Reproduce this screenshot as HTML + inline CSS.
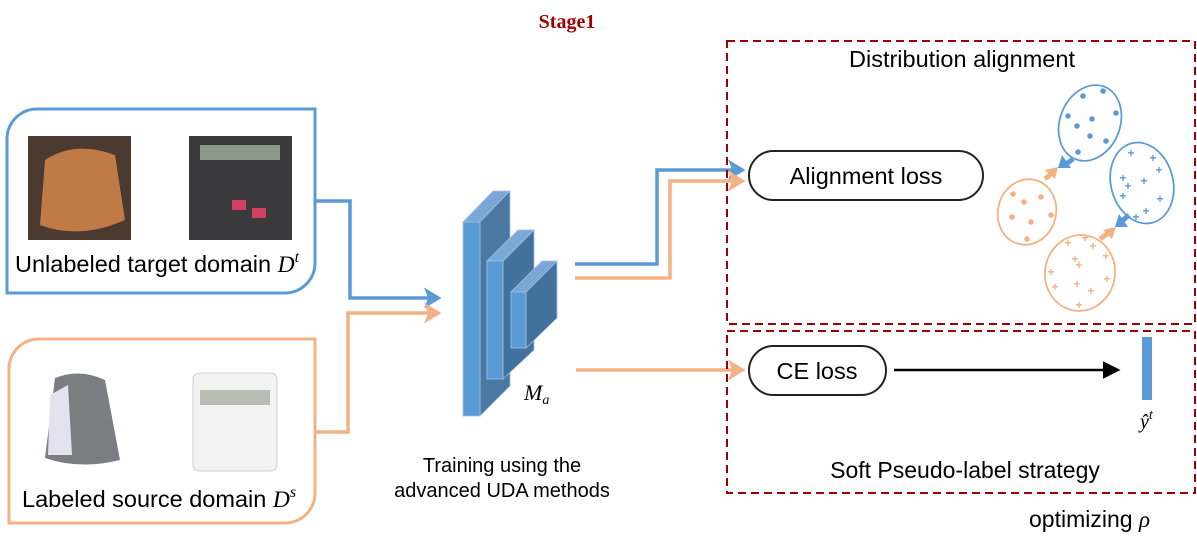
<!DOCTYPE html>
<html><head><meta charset="utf-8"><style>
body{margin:0;background:#fff;}
svg text{font-family:"Liberation Sans",sans-serif;}
</style></head><body>
<svg width="1197" height="548" viewBox="0 0 1197 548" xmlns="http://www.w3.org/2000/svg">
<defs>
<marker id="ab" markerWidth="6" markerHeight="6" refX="4" refY="3" orient="auto" markerUnits="strokeWidth"><path d="M0,0 L5,3 L0,6 L1.2,3 z" fill="#5b9bd5"/></marker>
<marker id="ao" markerWidth="6" markerHeight="6" refX="4" refY="3" orient="auto" markerUnits="strokeWidth"><path d="M0,0 L5,3 L0,6 L1.2,3 z" fill="#f4b183"/></marker>
<marker id="ak" markerWidth="8" markerHeight="8" refX="6" refY="4" orient="auto" markerUnits="strokeWidth"><path d="M0,0.5 L7,4 L0,7.5 z" fill="#000"/></marker>
</defs>
<text x="567" y="28" text-anchor="middle" font-weight="bold" font-size="20" fill="#a00000" style="font-family:'Liberation Serif',serif">Stage1</text>

<path d="M36,109 H315 V263 a30,30 0 0 1 -30,30 H7 V139 a30,30 0 0 1 30,-30z" fill="none" stroke="#5b9bd5" stroke-width="3"/>
<path d="M38,339 H315 V493 a30,30 0 0 1 -30,30 H9 V369 a30,30 0 0 1 30,-30z" fill="none" stroke="#f4b183" stroke-width="3"/>
<rect x="28" y="136" width="103" height="104" fill="#4a3a30"/>
<path d="M45,160 Q75,140 115,155 L125,220 Q80,240 40,225 z" fill="#c07a45"/>
<rect x="189" y="136" width="103" height="104" fill="#3a3a3c"/>
<rect x="200" y="145" width="80" height="15" fill="#8a9a8a"/>
<rect x="232" y="200" width="14" height="10" fill="#d04060"/><rect x="252" y="208" width="14" height="10" fill="#d04060"/>
<text x="15" y="272" font-size="23.5" fill="#000">Unlabeled target domain <tspan font-style="italic" style="font-family:'Liberation Serif',serif">D</tspan><tspan font-style="italic" font-size="16" dy="-10" style="font-family:'Liberation Serif',serif">t</tspan></text>
<path d="M55,378 Q80,368 105,380 L120,460 Q80,470 45,458 z" fill="#7a7d82"/>
<path d="M50,395 L68,385 L72,455 L48,455 z" fill="#e4e2ee"/>
<rect x="193" y="373" width="84" height="98" rx="6" fill="#f2f2f2" stroke="#cfcfcf"/>
<rect x="200" y="390" width="70" height="15" fill="#b7bdb2"/>
<text x="22" y="507" font-size="23.5" fill="#000">Labeled source domain <tspan font-style="italic" style="font-family:'Liberation Serif',serif">D</tspan><tspan font-style="italic" font-size="16" dy="-10" style="font-family:'Liberation Serif',serif">s</tspan></text>

<polyline points="316,201 350,201 350,298 438,298" fill="none" stroke="#5b9bd5" stroke-width="3.5" marker-end="url(#ab)"/>
<polyline points="316,432 348,432 348,313 438,313" fill="none" stroke="#f4b183" stroke-width="3.5" marker-end="url(#ao)"/>

<g stroke="#9cc3e6" stroke-width="0.8">
<polygon points="463,222 510,191 510,386 480,416 480,222" fill="#41719c" opacity="0.95"/>
<polygon points="463,222 480,222 510,191 493,191" fill="#7ba7d7"/>
<rect x="463" y="222" width="17" height="194" fill="#5b9bd5"/>
<polygon points="503,261 534,230 534,350 503,379" fill="#41719c"/>
<polygon points="487,261 503,261 534,230 518,230" fill="#7ba7d7"/>
<rect x="487" y="261" width="16" height="118" fill="#5b9bd5"/>
<polygon points="526,292 557,261 557,318 526,348" fill="#41719c"/>
<polygon points="511,292 526,292 557,261 542,261" fill="#7ba7d7"/>
<rect x="511" y="292" width="15" height="56" fill="#5b9bd5"/>
</g>
<text x="524" y="400" font-style="italic" font-size="22" style="font-family:'Liberation Serif',serif">M<tspan font-size="14" dy="4">a</tspan></text>
<text x="502" y="472" text-anchor="middle" font-size="20">Training using the</text>
<text x="502" y="497" text-anchor="middle" font-size="20">advanced UDA methods</text>

<polyline points="575,264 657,264 657,170 742,170" fill="none" stroke="#5b9bd5" stroke-width="3.5" marker-end="url(#ab)"/>
<polyline points="575,278 670,278 670,181 742,181" fill="none" stroke="#f4b183" stroke-width="3.5" marker-end="url(#ao)"/>
<line x1="576" y1="370" x2="742" y2="370" stroke="#f4b183" stroke-width="3.5" marker-end="url(#ao)"/>

<rect x="727" y="41" width="468" height="283" fill="none" stroke="#a00000" stroke-width="2" stroke-dasharray="8,5"/>
<rect x="727" y="331" width="468" height="162" fill="none" stroke="#a00000" stroke-width="2" stroke-dasharray="8,5"/>
<text x="962" y="67" text-anchor="middle" font-size="23.5">Distribution alignment</text>
<rect x="749" y="151" width="234" height="49" rx="24.5" fill="#fff" stroke="#222" stroke-width="2"/>
<text x="866" y="184" text-anchor="middle" font-size="23.5">Alignment loss</text>
<rect x="749" y="346" width="137" height="49" rx="24.5" fill="#fff" stroke="#222" stroke-width="2"/>
<text x="817" y="379" text-anchor="middle" font-size="23.5">CE loss</text>
<line x1="894" y1="370" x2="1118" y2="370" stroke="#000" stroke-width="2.5" marker-end="url(#ak)"/>
<rect x="1142" y="337" width="10" height="63" fill="#5b9bd5"/>
<text x="1140" y="428" font-style="italic" font-size="20" style="font-family:'Liberation Serif',serif">ŷ<tspan font-size="14" dy="-9">t</tspan></text>
<text x="965" y="478" text-anchor="middle" font-size="23">Soft Pseudo-label strategy</text>
<text x="1029" y="527" font-size="23">optimizing <tspan font-style="italic" style="font-family:'Liberation Serif',serif">ρ</tspan></text>

<g fill="none" stroke-width="1.8">
<ellipse cx="1090" cy="123" rx="30" ry="39" transform="rotate(22 1090 123)" stroke="#5b9bd5"/>
<ellipse cx="1027" cy="212" rx="29" ry="33" transform="rotate(15 1027 212)" stroke="#f4b183"/>
<ellipse cx="1142" cy="183" rx="31" ry="41" transform="rotate(-15 1142 183)" stroke="#5b9bd5"/>
<ellipse cx="1080" cy="273" rx="35" ry="38" transform="rotate(10 1080 273)" stroke="#f4b183"/>
</g>
<g fill="#5b9bd5">
<circle cx="1083" cy="96" r="2.8"/><circle cx="1103" cy="91" r="2.8"/><circle cx="1068" cy="116" r="2.8"/><circle cx="1092" cy="119" r="2.8"/><circle cx="1116" cy="113" r="2.8"/><circle cx="1077" cy="126" r="2.8"/><circle cx="1090" cy="136" r="2.8"/><circle cx="1106" cy="141" r="2.8"/><circle cx="1078" cy="152" r="2.8"/>
</g>
<g fill="#f4b183">
<circle cx="1013" cy="194" r="2.8"/><circle cx="1024" cy="202" r="2.8"/><circle cx="1041" cy="197" r="2.8"/><circle cx="1012" cy="217" r="2.8"/><circle cx="1031" cy="222" r="2.8"/><circle cx="1051" cy="215" r="2.8"/><circle cx="1027" cy="239" r="2.8"/>
</g>
<g fill="#5b9bd5" font-size="12" font-weight="bold" text-anchor="middle">
<text x="1131" y="157">+</text><text x="1153" y="162">+</text><text x="1159" y="174">+</text><text x="1123" y="182">+</text><text x="1128" y="190">+</text><text x="1144" y="185">+</text><text x="1123" y="200">+</text><text x="1160" y="203">+</text><text x="1146" y="215">+</text><text x="1136" y="221">+</text>
</g>
<g fill="#f4b183" font-size="12" font-weight="bold" text-anchor="middle">
<text x="1068" y="247">+</text><text x="1085" y="242">+</text><text x="1093" y="250">+</text><text x="1106" y="260">+</text><text x="1075" y="263">+</text><text x="1079" y="269">+</text><text x="1051" y="276">+</text><text x="1107" y="283">+</text><text x="1077" y="288">+</text><text x="1055" y="291">+</text><text x="1091" y="295">+</text><text x="1079" y="309">+</text>
</g>
<line x1="1073" y1="159" x2="1066" y2="164" stroke="#5b9bd5" stroke-width="5"/>
<polygon points="1058,168 1062,155 1071,168" fill="#5b9bd5"/>
<line x1="1045" y1="179" x2="1051" y2="174" stroke="#f4b183" stroke-width="5"/>
<polygon points="1058,167 1045,170 1055,179" fill="#f4b183"/>
<line x1="1129" y1="215" x2="1122" y2="221" stroke="#5b9bd5" stroke-width="5"/>
<polygon points="1115,227 1119,214 1128,227" fill="#5b9bd5"/>
<line x1="1100" y1="239" x2="1108" y2="233" stroke="#f4b183" stroke-width="5"/>
<polygon points="1116,227 1103,230 1112,239" fill="#f4b183"/>
</svg>
</body></html>
